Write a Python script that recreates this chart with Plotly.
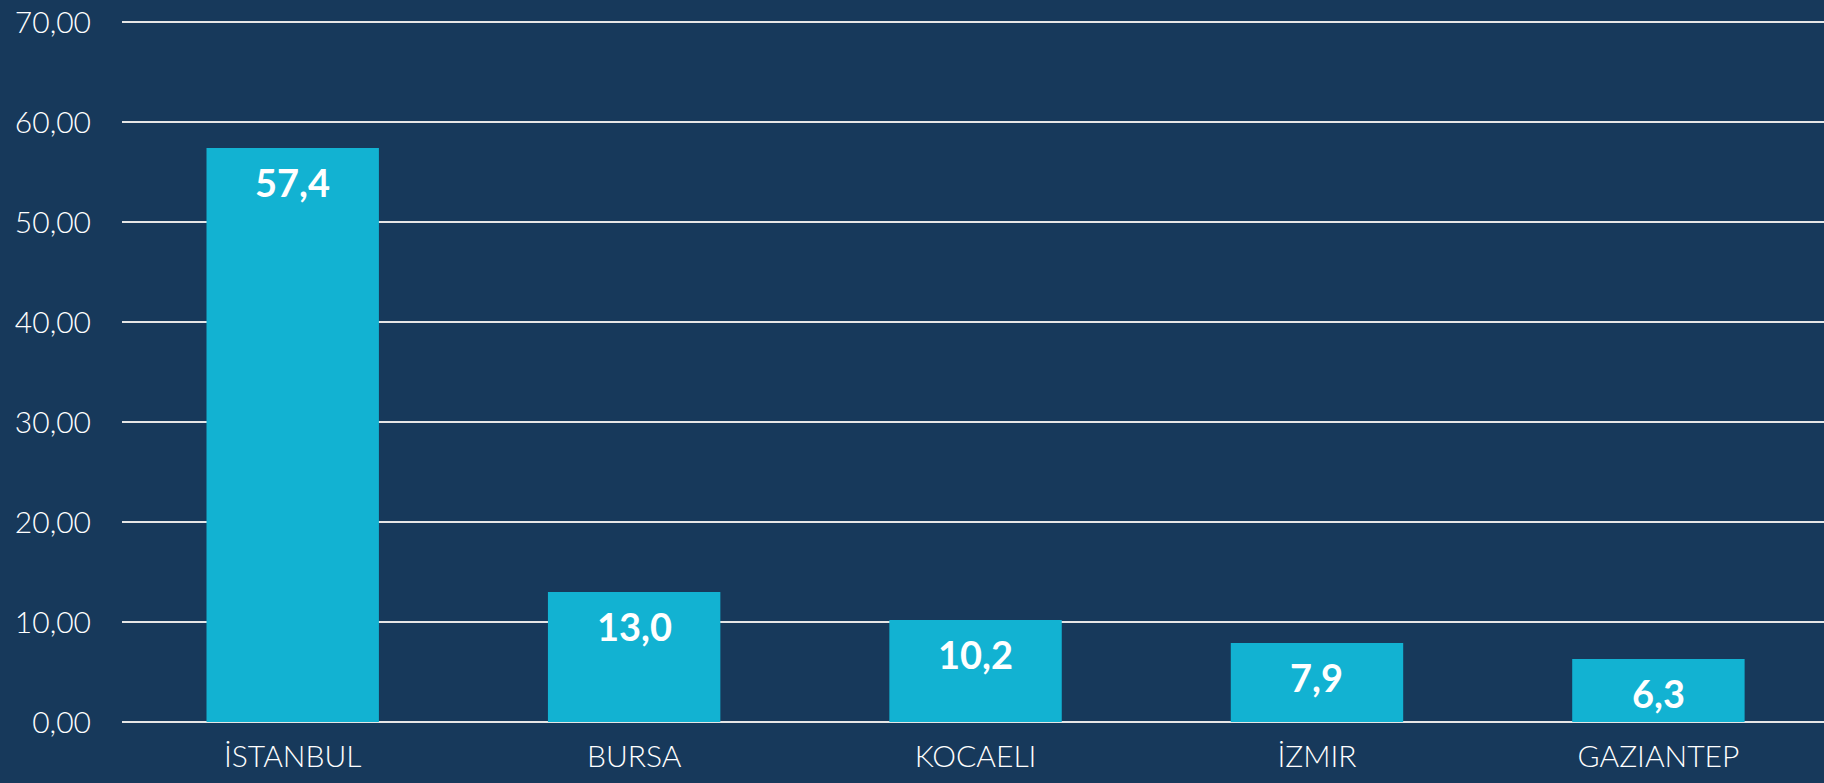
import plotly.graph_objects as go

cities = ["İSTANBUL", "BURSA", "KOCAELI", "İZMIR", "GAZIANTEP"]
values = [57.4, 13.0, 10.2, 7.9, 6.3]
y_ticks = [0, 10, 20, 30, 40, 50, 60, 70]

BG = "#17395B"

fig = go.Figure()
fig.add_trace(go.Bar(
    x=cities, y=values,
    marker=dict(color="#12B2D2", line=dict(width=0)),
    width=0.505,
    hoverinfo="x+y",
))

for c, v in zip(cities, values):
    fig.add_annotation(
        x=c, y=v, xref="x", yref="y",
        text=f"<b>{v:.1f}</b>".replace(".", ","),
        showarrow=False, yanchor="top", yshift=-9,
        font=dict(family="Lato", size=38, color="white"),
    )

fig.update_layout(
    width=1824, height=783,
    paper_bgcolor=BG, plot_bgcolor=BG,
    margin=dict(l=122, r=0, t=12, b=61),
    separators=",.",
    showlegend=False,
    bargap=0.495,
    xaxis=dict(
        type="category",
        range=[-0.5, 4.485],
        showgrid=False, zeroline=False, showline=False,
        ticks="", ticklabelstandoff=14,
        tickfont=dict(family="Lato", size=30, color="white", weight=300),
    ),
    yaxis=dict(
        range=[0, 71], tickvals=y_ticks, tickformat=".2f",
        showgrid=True, gridcolor="#E6E6E6", gridwidth=2,
        zeroline=True, zerolinecolor="#E6E6E6", zerolinewidth=2,
        showline=False, ticks="", ticklabelstandoff=30,
        tickfont=dict(family="Lato", size=30, color="white", weight=300),
    ),
)

fig.write_html(
    "out.html",
    config={"displayModeBar": False},
    post_script="document.body.style.margin='0';document.body.style.background='%s';" % BG,
)
